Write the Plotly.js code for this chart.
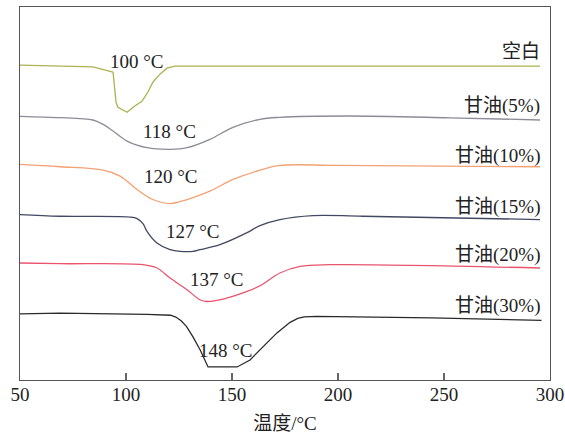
<!DOCTYPE html>
<html>
<head>
<meta charset="utf-8">
<script src="https://cdn.plot.ly/plotly-3.0.1.min.js"></script>
<style>html,body{margin:0;padding:0;background:#fff;}#chart{width:565px;height:436px;}</style>
</head>
<body>
<div id="chart"></div>
<script>
// Series names (right-hand labels)
const seriesNames = ["空白", "甘油(5%)", "甘油(10%)", "甘油(15%)", "甘油(20%)", "甘油(30%)"];
// Peak temperature labels
const peakLabels = ["100 °C", "118 °C", "120 °C", "127 °C", "137 °C", "148 °C"];

// Temperature (°C) and heat-flow (arbitrary units, curves vertically offset) for each series
const tBlank = [50, 84.4, 93.4, 93.9, 95.3, 96.2, 100.5, 104, 107.5, 110, 112.7, 116, 119.3, 123.1, 200, 295.3];
const hBlank = [321, 319.3, 314.3, 314, 284, 279, 274, 280, 285, 293, 304, 312, 318, 320, 320, 320];

const t5 = [50, 68.9, 78.3, 84.4, 89.2, 93.9, 100.5, 109.9, 120.8, 128.8, 139.6, 150.5, 163.2, 172.6, 204.2, 252.8, 295.3];
const h5 = [270, 268.7, 267.6, 266.3, 262, 255.3, 245.3, 238.7, 237, 238.7, 247, 259, 267, 269, 270.3, 268.5, 266.3];

const t10 = [50, 68.9, 89.2, 97.2, 105.2, 112.7, 120.8, 128.8, 139.6, 150.5, 163.2, 172.6, 200, 295.3];
const h10 = [222, 219.7, 216.3, 210.3, 197, 187, 183, 187, 195.3, 207, 216.3, 221, 221, 219.7];

const t15 = [50, 68.9, 101.9, 105.2, 108, 109.9, 114.6, 120.8, 125.5, 131.6, 134.9, 144.3, 157.1, 163.2, 172.6, 188.2, 211.8, 295.3];
const h15 = [172, 170.3, 169.5, 168, 163, 155.3, 143.7, 137, 135.3, 135.3, 137, 142, 154, 161, 167, 171, 170.3, 167];

const t20 = [50, 68.9, 108, 114.6, 120.8, 128.8, 134.9, 138.2, 145.8, 157.1, 163.2, 172.6, 182.1, 196.2, 295.3];
const h20 = [123.7, 123, 122, 118.7, 108.7, 97, 87, 85.3, 87.7, 95.3, 101, 113.7, 120.3, 122, 118.7];

const t30 = [50, 68.9, 110, 118, 121, 123.5, 126, 128.5, 131.6, 135, 138.7, 152.4, 155, 158.5, 164.6, 171.2, 177.4, 181, 184, 190, 244, 296];
const h30 = [73, 73.7, 72.5, 72.2, 71.6, 69.8, 66, 60.5, 50, 37, 20, 20, 23, 27, 40, 54, 64.5, 68.5, 70, 70.5, 69, 66.4];

// Positions of peak labels (temperature, heat-flow units)
const peakLabelT = [105.4, 120.5, 121, 131.4, 142.7, 147.4];
const peakLabelH = [325, 255, 210, 155, 107, 36];
// Right-hand series label heights
const nameLabelH = [335, 280, 230, 180, 132, 81];

const xTickVals = [50, 100, 150, 200, 250, 300];

const colors = ["#adb24e", "#8c8c99", "#f3a173", "#414862", "#e8546e", "#2a2a2a"];
const xs = [tBlank, t5, t10, t15, t20, t30];
const ys = [hBlank, h5, h10, h15, h20, h30];
const shapes = ["linear", "spline", "spline", "spline", "spline", "linear"];

const serif = "'Times New Roman', 'Liberation Serif', 'Noto Sans CJK SC', serif";

const traces = xs.map((x, i) => ({
  x: x, y: ys[i], type: "scatter", mode: "lines", name: seriesNames[i],
  line: {color: colors[i], width: 1.3, shape: shapes[i], smoothing: 1},
  hoverinfo: "skip"
}));

const annotations = [];
seriesNames.forEach((n, i) => {
  annotations.push({x: 296, y: nameLabelH[i], xref: "x", yref: "y", text: n, showarrow: false,
    xanchor: "right", yanchor: "middle", font: {family: serif, size: 19, color: "#222"}});
});
peakLabels.forEach((p, i) => {
  annotations.push({x: peakLabelT[i], y: peakLabelH[i], xref: "x", yref: "y", text: p, showarrow: false,
    xanchor: "center", yanchor: "middle", font: {family: serif, size: 19, color: "#222"}});
});

const layout = {
  width: 565, height: 436,
  margin: {l: 20, r: 15, t: 7, b: 56},
  paper_bgcolor: "#fff", plot_bgcolor: "#fff",
  showlegend: false,
  font: {family: serif, size: 19, color: "#222"},
  xaxis: {
    range: [50, 300], tickvals: xTickVals, ticktext: xTickVals.map(String),
    ticks: "inside", ticklen: 7, tickwidth: 1.2, tickcolor: "#666",
    ticklabelstandoff: -3,
    showline: true, linecolor: "#555", linewidth: 1.3, mirror: true,
    showgrid: false, zeroline: false,
    tickfont: {family: serif, size: 19, color: "#222"},
    title: {text: "温度/°C", font: {family: serif, size: 19, color: "#222"}, standoff: 12}
  },
  yaxis: {
    range: [7, 379], showticklabels: false, ticks: "",
    showline: true, linecolor: "#555", linewidth: 1.3, mirror: true,
    showgrid: false, zeroline: false
  },
  annotations: annotations
};

Plotly.newPlot("chart", traces, layout, {staticPlot: true, displayModeBar: false});
</script>
</body>
</html>
